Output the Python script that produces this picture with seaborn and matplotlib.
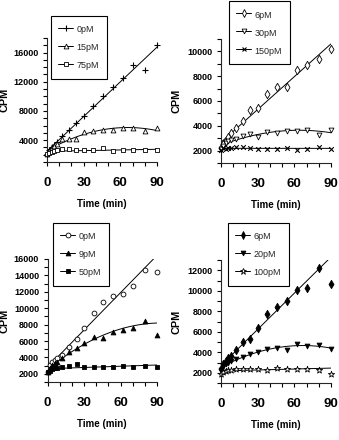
import matplotlib
matplotlib.use("Agg")
import matplotlib.pyplot as plt
from matplotlib.lines import Line2D
from matplotlib.ticker import MultipleLocator
from matplotlib.transforms import blended_transform_factory
import pandas as pd
import seaborn as sns

# Sampling times (min)
time_min = [0, 2, 4, 6, 8, 12, 18, 24, 30, 38, 46, 54, 62, 70, 80, 90]

# Panel A (CPM)
a_0pM = [2100, 2650, 3100, 3350, 3700, 4500, 5450, 6350, 7300, 8700, 10000, 11250, 12550, 14250, 13600, 17050]
a_15pM = [2100, 2500, 2900, 3200, 3500, 4150, 4150, 4200, 5100, 5200, 5400, 5350, 5600, 5700, 5250, 5700]
a_75pM = [2050, 2200, 2400, 2500, 2600, 2750, 2800, 2650, 2650, 2650, 2880, 2500, 2650, 2650, 2650, 2600]

# Panel B (CPM)
b_6pM = [2200, 2500, 2750, 3100, 3450, 3800, 4400, 5250, 5450, 6600, 7100, 7150, 8500, 8900, 9350, 10200]
b_30pM = [2100, 2400, 2600, 2750, 2850, 2970, 3200, 3350, 3100, 3500, 3450, 3570, 3600, 3650, 3280, 3700]
b_150pM = [2080, 2210, 2100, 2200, 2230, 2270, 2290, 2210, 2130, 2150, 2150, 2210, 2080, 2160, 2290, 2160]

# Panel C (CPM)
c_0pM = [2280, 3100, 3500, 3710, 3950, 4350, 5300, 6250, 7530, 9400, 10700, 11500, 11700, 12700, 14700, 14450]
c_9pM = [2280, 2700, 3100, 3300, 3500, 3950, 4600, 5200, 5750, 6450, 6360, 7150, 7350, 7550, 8450, 6700]
c_50pM = [2160, 2400, 2600, 2700, 2750, 2820, 2980, 3150, 2780, 2820, 2850, 2820, 2950, 2850, 2950, 2850]

# Panel D (CPM)
d_6pM = [2330, 2820, 3140, 3400, 3630, 4220, 5030, 5290, 6400, 7700, 8450, 9000, 10050, 10300, 12180, 10660]
d_20pM = [2230, 2600, 2830, 3000, 3140, 3350, 3580, 3860, 3980, 4280, 4440, 4230, 4760, 4620, 4670, 4360]
d_100pM = [1840, 2100, 2160, 2230, 2300, 2330, 2330, 2350, 2330, 2300, 2430, 2350, 2380, 2330, 2300, 1900]

# Time points left out of the curve fits (outliers)
a_fit_excluded = []
b_fit_excluded = []
c_fit_excluded = [90]
d_fit_excluded = [90]

sns.set_theme(style="ticks")
plt.rcParams["font.family"] = ["Liberation Sans", "DejaVu Sans"]
plt.rcParams["axes.linewidth"] = 0.8
for k in ("xtick.major.width", "ytick.major.width", "xtick.minor.width", "ytick.minor.width"):
    plt.rcParams[k] = 0.8

W, H = 339, 440
fig = plt.figure(figsize=(W / 100, H / 100), dpi=100)


def px_rect(left, top, right, bottom):
    return [left / W, 1 - bottom / H, (right - left) / W, (bottom - top) / H]


# series: label, values, marker, face colour, polynomial order of the fit
panels = [
    dict(rect=(47, 38, 157, 162), ylim=(1000, 18000), ystep=4000, legend_at=(51, 16),
         ylabel_x=10, excluded=a_fit_excluded,
         series=[("0pM", a_0pM, "+", "black", 1),
                 ("15pM", a_15pM, "^", "white", 2),
                 ("75pM", a_75pM, "s", "white", 1)]),
    dict(rect=(221, 39, 331, 163), ylim=(1000, 11000), ystep=2000, legend_at=(229, 1.5),
         ylabel_x=181, excluded=b_fit_excluded,
         series=[("6pM", b_6pM, "d", "white", 1),
                 ("30pM", b_30pM, "v", "white", 2),
                 ("150pM", b_150pM, "x", "black", 1)]),
    dict(rect=(47.5, 259, 157, 382), ylim=(1000, 16000), ystep=2000, legend_at=(53, 223),
         ylabel_x=10, excluded=c_fit_excluded,
         series=[("0pM", c_0pM, "o", "white", 1),
                 ("9pM", c_9pM, "^", "black", 2),
                 ("50pM", c_50pM, "s", "black", 1)]),
    dict(rect=(221, 260, 331, 383), ylim=(1000, 13000), ystep=2000, legend_at=(228, 223),
         ylabel_x=181, excluded=d_fit_excluded,
         series=[("6pM", d_6pM, "d", "black", 1),
                 ("20pM", d_20pM, "v", "black", 2),
                 ("100pM", d_100pM, "*", "white", 1)]),
]

marker_sizes = {"+": 16, "x": 11, "^": 12, "v": 12, "s": 9, "o": 12, "d": 18, "*": 22}

for p in panels:
    ax = fig.add_axes(px_rect(*p["rect"]))
    ax.set_xlim(0, 90)
    ax.set_ylim(*p["ylim"])
    handles = []
    for label, values, marker, face, order in p["series"]:
        df = pd.DataFrame({"time": time_min, "cpm": values})
        fit_df = df[~df["time"].isin(p["excluded"])]
        sns.regplot(data=fit_df, x="time", y="cpm", order=order, ci=None,
                    scatter=False, truncate=False, color="black",
                    line_kws=dict(lw=0.7), ax=ax)
        filled = marker not in ("+", "x")
        kw = dict(edgecolor="black", linewidth=0.6) if filled else dict(linewidth=0.8)
        sns.scatterplot(data=df, x="time", y="cpm", marker=marker,
                        s=marker_sizes[marker], color=face, ax=ax,
                        clip_on=False, zorder=3, **kw)
        handles.append(Line2D([], [], color="black", lw=0.7, marker=marker,
                              markersize=(marker_sizes[marker] ** 0.5),
                              markerfacecolor=face, markeredgecolor="black",
                              markeredgewidth=0.6 if filled else 0.8, label=label))
    ax.set_xlim(0, 90)
    ax.set_ylim(*p["ylim"])
    sns.despine(ax=ax)

    ax.xaxis.set_major_locator(MultipleLocator(30))
    ax.xaxis.set_minor_locator(MultipleLocator(10))
    ax.yaxis.set_major_locator(MultipleLocator(p["ystep"]))
    ax.yaxis.set_minor_locator(MultipleLocator(1000))
    ax.tick_params(axis="both", which="both", direction="out", length=3, color="black")
    ax.tick_params(axis="x", which="major", pad=8, labelsize=9.5)
    ax.tick_params(axis="y", which="major", pad=3, labelsize=6.5)
    for t in ax.get_xticklabels() + ax.get_yticklabels():
        t.set_fontweight("bold")
        t.set_color("black")

    ax.set_xlabel("Time (min)", fontsize=7, fontweight="bold", color="black", labelpad=7)
    ax.set_ylabel("CPM", fontsize=7.8, fontweight="bold", color="black")
    ax.yaxis.set_label_coords(p["ylabel_x"] / W, 0.5,
                              transform=blended_transform_factory(fig.transFigure, ax.transAxes))

    lx, ly = p["legend_at"]
    leg = ax.legend(handles=handles, loc="upper left",
                    bbox_to_anchor=(lx / W, 1 - ly / H), bbox_transform=fig.transFigure,
                    borderaxespad=0, frameon=True, fancybox=False, framealpha=1,
                    edgecolor="black", fontsize=6.5, labelspacing=0.66,
                    borderpad=0.83, handlelength=1.66, handleheight=1.66,
                    handletextpad=0.35)
    leg.get_frame().set_linewidth(0.8)

fig.savefig("out.png", dpi=100)
